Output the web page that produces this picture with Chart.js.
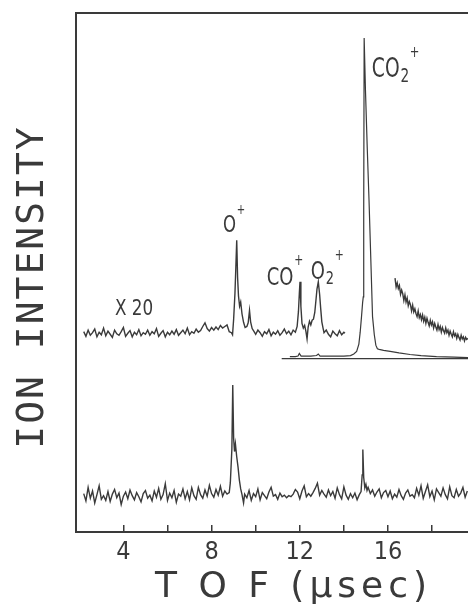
<!DOCTYPE html>
<html lang="en">
  <head>
    <meta charset="UTF-8" />
    <meta name="viewport" content="width=device-width, initial-scale=1.0" />
    <title>TOF mass spectrum</title>
    <style>
      body {
        margin: 0;
        background-color: #fff;
      }
      .chart-container {
        position: relative;
        width: 468px;
        height: 614px;
      }
    </style>
  </head>
  <body>
    <div class="chart-container">
      <canvas id="tofChart"></canvas>
    </div>

    <script src="https://cdn.jsdelivr.net/npm/chart.js"></script>

    <script>
      // x axis range (usec) and ticks
      const tofMin = 1.85;
      const tofMax = 19.63;
      const tickValues = [4, 6, 8, 10, 12, 14, 16, 18];
      const labeledTicks = [4, 8, 12, 16];

      // lower trace, [tof, intensity]
      const lowerTrace = [
        [2.2, 7.4], [2.3, 6.0], [2.4, 8.6], [2.5, 6.5], [2.6, 7.9], [2.7, 5.6], [2.8, 7.2], [2.9, 8.9], [3.0, 6.3], [3.1, 7.0],
        [3.2, 6.1], [3.3, 7.8], [3.4, 5.9], [3.5, 7.3], [3.6, 8.2], [3.7, 6.6], [3.8, 7.5], [3.9, 5.3], [4.0, 6.9], [4.1, 7.7],
        [4.2, 6.4], [4.3, 8.1], [4.4, 7.0], [4.5, 6.2], [4.6, 7.6], [4.7, 6.8], [4.8, 5.8], [4.9, 7.4], [5.0, 8.0], [5.1, 6.5],
        [5.2, 7.1], [5.3, 6.0], [5.4, 7.9], [5.5, 6.7], [5.6, 8.4], [5.7, 6.3], [5.8, 7.2], [5.9, 9.3], [6.0, 6.1], [6.1, 7.5],
        [6.2, 6.6], [6.3, 8.0], [6.4, 5.7], [6.5, 7.3], [6.6, 6.9], [6.7, 8.3], [6.8, 6.4], [6.9, 7.8], [7.0, 6.2], [7.1, 8.5],
        [7.2, 7.0], [7.3, 6.3], [7.4, 8.6], [7.5, 7.2], [7.6, 6.5], [7.7, 8.1], [7.8, 6.9], [7.9, 9.0], [8.0, 7.4], [8.1, 6.7],
        [8.2, 8.2], [8.3, 7.1], [8.4, 8.8], [8.5, 6.9], [8.6, 7.9], [8.7, 7.3], [8.8, 7.6], [8.85, 9.5], [8.92, 16.0],
        [8.96, 28.3], [9.0, 18.0], [9.04, 15.5], [9.08, 17.0], [9.14, 14.5], [9.2, 12.5], [9.26, 10.0], [9.32, 8.3],
        [9.38, 7.2], [9.45, 5.6],
        [9.5, 7.3], [9.6, 6.6], [9.7, 8.0], [9.8, 6.1], [9.9, 7.4], [10.0, 6.8], [10.1, 8.3], [10.2, 6.2], [10.3, 7.6], [10.4, 7.0],
        [10.5, 6.4], [10.6, 7.7], [10.7, 8.6], [10.8, 6.9], [10.9, 7.2], [11.0, 6.3], [11.1, 7.5], [11.2, 6.8], [11.3, 7.1], [11.4, 6.6],
        [11.5, 7.0], [11.6, 6.8], [11.7, 7.3], [11.8, 8.2], [11.9, 7.7], [12.0, 6.4], [12.1, 7.9], [12.2, 8.9], [12.3, 6.8], [12.4, 7.4],
        [12.5, 6.9], [12.6, 7.6], [12.7, 8.4], [12.8, 9.4], [12.9, 7.1], [13.0, 8.0], [13.1, 7.3], [13.2, 6.7], [13.3, 8.1], [13.4, 7.0],
        [13.5, 7.8], [13.6, 6.5], [13.7, 8.5], [13.8, 7.2], [13.9, 6.4], [14.0, 8.7], [14.1, 7.1], [14.2, 6.3], [14.3, 7.4], [14.4, 6.6],
        [14.5, 7.5], [14.6, 6.2], [14.7, 7.2], [14.78, 7.8], [14.83, 11.0], [14.86, 15.9], [14.9, 10.5], [14.95, 8.5],
        [15.0, 9.2], [15.05, 8.0],
        [15.1, 8.6], [15.2, 7.4], [15.3, 8.1], [15.4, 6.9], [15.5, 7.7], [15.6, 8.3], [15.7, 6.6], [15.8, 7.6], [15.9, 8.0], [16.0, 6.8],
        [16.1, 7.9], [16.2, 6.4], [16.3, 7.3], [16.4, 6.7], [16.5, 8.2], [16.6, 7.0], [16.7, 6.3], [16.8, 7.5], [16.9, 8.1], [17.0, 6.9],
        [17.1, 7.2], [17.2, 6.6], [17.3, 8.4], [17.4, 7.1], [17.5, 8.9], [17.6, 6.5], [17.7, 7.8], [17.8, 9.1], [17.9, 6.8], [18.0, 7.9],
        [18.1, 6.2], [18.2, 8.3], [18.3, 7.6], [18.4, 6.9], [18.5, 8.5], [18.6, 7.2], [18.7, 6.4], [18.8, 8.7], [18.9, 7.0], [19.0, 6.6],
        [19.1, 8.2], [19.2, 6.9], [19.3, 7.5], [19.4, 8.6], [19.5, 6.7], [19.6, 7.9]
      ];

      // upper trace, magnified x20
      const upperTrace = [
        [2.2, 38.6], [2.3, 37.7], [2.4, 38.9], [2.5, 37.9], [2.6, 38.4], [2.7, 39.1], [2.8, 37.6], [2.9, 38.5], [3.0, 38.0], [3.1, 39.3],
        [3.2, 37.8], [3.3, 38.7], [3.4, 38.1], [3.5, 37.5], [3.6, 38.9], [3.7, 38.2], [3.8, 37.9], [3.9, 38.6], [4.0, 39.4], [4.1, 37.7],
        [4.2, 38.3], [4.3, 38.8], [4.4, 37.6], [4.5, 38.5], [4.6, 38.0], [4.7, 39.0], [4.8, 37.8], [4.9, 38.4], [5.0, 38.1], [5.1, 38.9],
        [5.2, 37.9], [5.3, 38.6], [5.4, 38.2], [5.5, 39.2], [5.6, 37.7], [5.7, 38.3], [5.8, 38.8], [5.9, 37.6], [6.0, 38.5], [6.1, 38.0],
        [6.2, 38.7], [6.3, 38.1], [6.4, 39.0], [6.5, 37.9], [6.6, 38.4], [6.7, 38.9], [6.8, 38.2], [6.9, 39.3], [7.0, 38.0], [7.1, 38.6],
        [7.2, 38.3], [7.3, 39.1], [7.4, 38.5], [7.5, 38.8], [7.6, 39.6], [7.7, 40.3], [7.8, 39.2], [7.9, 38.7], [8.0, 39.4], [8.1, 38.9],
        [8.2, 39.5], [8.3, 39.0], [8.4, 39.8], [8.5, 39.3], [8.6, 39.6], [8.7, 39.9], [8.8, 38.6], [8.9, 38.4],
        [8.95, 38.0], [9.0, 41.0], [9.06, 46.0], [9.1, 51.0], [9.14, 56.2], [9.18, 49.0], [9.22, 45.5], [9.27, 43.5],
        [9.32, 44.3], [9.38, 42.0], [9.45, 40.4], [9.52, 39.4], [9.6, 39.6], [9.66, 40.3], [9.72, 42.7], [9.77, 40.5],
        [9.84, 39.2], [9.9, 38.8],
        [10.0, 38.1], [10.1, 38.9], [10.2, 38.4], [10.3, 37.7], [10.4, 38.6], [10.5, 38.2], [10.6, 39.0], [10.7, 37.8], [10.8, 38.5], [10.9, 38.1],
        [11.0, 38.8], [11.1, 37.9], [11.2, 38.4], [11.3, 39.1], [11.4, 38.2], [11.5, 38.7], [11.6, 38.0], [11.7, 38.9], [11.8, 38.5],
        [11.88, 39.6], [11.94, 42.5], [11.98, 46.0], [12.01, 48.2], [12.05, 43.5], [12.1, 40.2], [12.16, 39.3], [12.22, 39.8],
        [12.28, 38.6], [12.33, 37.2], [12.38, 39.5], [12.44, 40.6], [12.5, 39.9], [12.56, 40.8], [12.62, 41.0], [12.68, 42.3],
        [12.73, 44.5], [12.78, 46.8], [12.84, 48.2], [12.9, 45.8], [12.95, 43.0], [13.0, 40.5], [13.06, 39.2],
        [13.1, 38.4], [13.2, 38.9], [13.3, 38.1], [13.4, 37.6], [13.5, 38.7], [13.6, 38.2], [13.7, 37.8], [13.8, 38.8], [13.9, 38.0],
        [14.0, 38.5], [14.05, 38.3]
      ];

      // CO2+ peak, unmagnified inset
      const co2Trace = [
        [11.55, 33.8], [11.8, 33.8], [11.92, 33.9], [11.98, 34.4], [12.06, 33.9], [12.5, 33.9], [12.76, 34.0], [12.84, 34.3],
        [12.92, 33.9], [13.5, 33.9], [14.0, 33.9], [14.3, 34.0], [14.45, 34.3], [14.58, 34.8], [14.68, 36.2], [14.74, 38.5],
        [14.8, 41.5], [14.85, 44.2], [14.88, 45.3], [14.9, 62.0], [14.92, 95.2], [14.98, 85.0], [15.06, 74.0], [15.14, 64.0],
        [15.24, 50.0], [15.3, 41.5], [15.33, 40.2], [15.38, 38.0], [15.45, 36.0], [15.52, 35.3], [15.6, 35.2], [15.8, 35.0],
        [16.1, 34.8], [16.5, 34.5], [17.0, 34.2], [17.5, 34.0], [18.2, 33.8], [19.0, 33.7], [19.63, 33.6]
      ];
      const co2Baseline = [[11.18, 33.4], [19.63, 33.4]];

      // CO2+ tail, magnified x20
      const co2Tail = [
        [16.32, 48.9], [16.37, 47.2], [16.42, 48.0], [16.47, 46.9], [16.52, 47.5], [16.57, 45.8], [16.62, 46.6], [16.67, 45.9],
        [16.72, 44.6], [16.77, 45.7], [16.82, 44.3], [16.87, 45.1], [16.92, 43.6], [16.97, 44.4], [17.02, 43.8], [17.07, 42.6],
        [17.12, 43.7], [17.17, 42.4], [17.22, 43.0], [17.27, 42.1], [17.32, 41.5], [17.37, 42.6], [17.42, 41.3], [17.47, 41.9],
        [17.52, 40.9], [17.57, 41.8], [17.62, 40.6], [17.67, 41.4], [17.72, 40.2], [17.77, 41.2], [17.82, 40.4], [17.87, 39.7],
        [17.92, 40.8], [17.97, 39.9], [18.02, 40.5], [18.07, 39.3], [18.12, 40.2], [18.17, 39.5], [18.22, 38.9], [18.27, 40.0],
        [18.32, 39.0], [18.37, 39.6], [18.42, 38.5], [18.47, 39.4], [18.52, 38.8], [18.57, 38.3], [18.62, 39.3], [18.67, 38.4],
        [18.72, 38.9], [18.77, 37.9], [18.82, 38.7], [18.87, 38.1], [18.92, 37.6], [18.97, 38.6], [19.02, 37.8], [19.07, 38.2],
        [19.12, 37.3], [19.17, 38.1], [19.22, 37.5], [19.27, 37.0], [19.32, 37.9], [19.37, 37.2], [19.42, 37.6], [19.47, 36.8],
        [19.52, 37.5], [19.57, 37.1], [19.63, 37.3]
      ];

      // peak labels: [tof, intensity] of the label's left baseline
      const peakLabels = [
        { tof: 15.27, level: 87.7, size: 26, main: "CO", sub: "2", sup: "+" },
        { tof: 8.52, level: 57.8, size: 23, main: "O", sub: "", sup: "+" },
        { tof: 10.5, level: 47.6, size: 25, main: "CO", sub: "", sup: "+" },
        { tof: 12.5, level: 48.7, size: 25, main: "O", sub: "2", sup: "+" }
      ];
      const gainLabel = { tof: 3.62, level: 41.8, text: "X 20" };

      const ink = "#3a3a3a";
      const labelFont = "'DejaVu Sans', sans-serif";
      const tickFont = "'Liberation Sans Narrow', 'DejaVu Sans Condensed', 'DejaVu Sans'";

      const toPoints = (trace) => trace.map(([x, y]) => ({ x, y }));

      function drawIonLabel(ctx, px, py, lab) {
        const s = lab.size;
        ctx.save();
        ctx.translate(px, py);
        ctx.scale(0.72, 1);
        ctx.font = `${s}px ${labelFont}`;
        ctx.fillText(lab.main, 0, 0);
        let w = ctx.measureText(lab.main).width;
        if (lab.sub) {
          ctx.font = `${Math.round(s * 0.72)}px ${labelFont}`;
          ctx.fillText(lab.sub, w + 1, s * 0.18);
          w += ctx.measureText(lab.sub).width + 1;
        }
        ctx.font = `${Math.round(s * 0.6)}px ${labelFont}`;
        ctx.fillText(lab.sup, w + 1, -s * 0.78);
        ctx.restore();
      }

      const figureText = {
        id: "figureText",
        afterDraw(chart) {
          const { ctx } = chart;
          const { x, y } = chart.scales;
          ctx.save();
          ctx.fillStyle = ink;
          ctx.textBaseline = "alphabetic";

          // y title
          ctx.save();
          ctx.translate(43, 287);
          ctx.rotate(-Math.PI / 2);
          ctx.font = "38px 'DejaVu Sans Mono'";
          ctx.letterSpacing = "2px";
          ctx.textAlign = "center";
          ctx.fillText("ION INTENSITY", 0, 0);
          ctx.restore();

          // x title
          ctx.save();
          ctx.font = "36px 'DejaVu Sans'";
          ctx.letterSpacing = "5px";
          ctx.textAlign = "left";
          ctx.fillText("T O F (µsec)", 155, 597);
          ctx.restore();

          peakLabels.forEach((lab) => {
            drawIonLabel(ctx, x.getPixelForValue(lab.tof), y.getPixelForValue(lab.level), lab);
          });

          ctx.save();
          ctx.translate(x.getPixelForValue(gainLabel.tof), y.getPixelForValue(gainLabel.level));
          ctx.scale(0.8, 1);
          ctx.font = `21px ${labelFont}`;
          ctx.fillText(gainLabel.text, 0, 0);
          ctx.restore();

          ctx.restore();
        }
      };

      const lineStyle = (trace, width) => ({
        data: toPoints(trace),
        borderColor: ink,
        borderWidth: width,
        pointRadius: 0,
        tension: 0,
        fill: false
      });

      const ctx = document.getElementById("tofChart").getContext("2d");

      const tofChart = new Chart(ctx, {
        type: "line",
        data: {
          datasets: [
            lineStyle(lowerTrace, 1.4),
            lineStyle(upperTrace, 1.4),
            lineStyle(co2Trace, 1.2),
            lineStyle(co2Baseline, 1.2),
            lineStyle(co2Tail, 1.4)
          ]
        },
        options: {
          responsive: true,
          maintainAspectRatio: false,
          animation: false,
          events: [],
          layout: { padding: 0 },
          plugins: {
            legend: { display: false },
            tooltip: { enabled: false }
          },
          scales: {
            x: {
              type: "linear",
              min: tofMin,
              max: tofMax,
              afterBuildTicks: (scale) => {
                scale.ticks = tickValues.map((v) => ({ value: v }));
              },
              afterFit: (scale) => {
                scale.height = 82;
              },
              ticks: {
                color: ink,
                padding: 12,
                maxRotation: 0,
                autoSkip: false,
                font: { family: tickFont, size: 25 },
                callback: (v) => (labeledTicks.includes(v) ? String(v) : "")
              },
              grid: {
                drawOnChartArea: false,
                drawTicks: true,
                tickLength: -7,
                color: ink,
                lineWidth: 1.5
              },
              border: { display: true, color: ink, width: 2 }
            },
            xTop: {
              type: "linear",
              position: "top",
              min: tofMin,
              max: tofMax,
              afterFit: (scale) => {
                scale.height = 13;
              },
              ticks: { display: false },
              grid: { display: false },
              border: { display: true, color: ink, width: 2 }
            },
            y: {
              min: 0,
              max: 100,
              afterFit: (scale) => {
                scale.width = 76;
              },
              ticks: { display: false },
              grid: { display: false },
              border: { display: true, color: ink, width: 2 }
            }
          }
        },
        plugins: [figureText]
      });
    </script>
  </body>
</html>
